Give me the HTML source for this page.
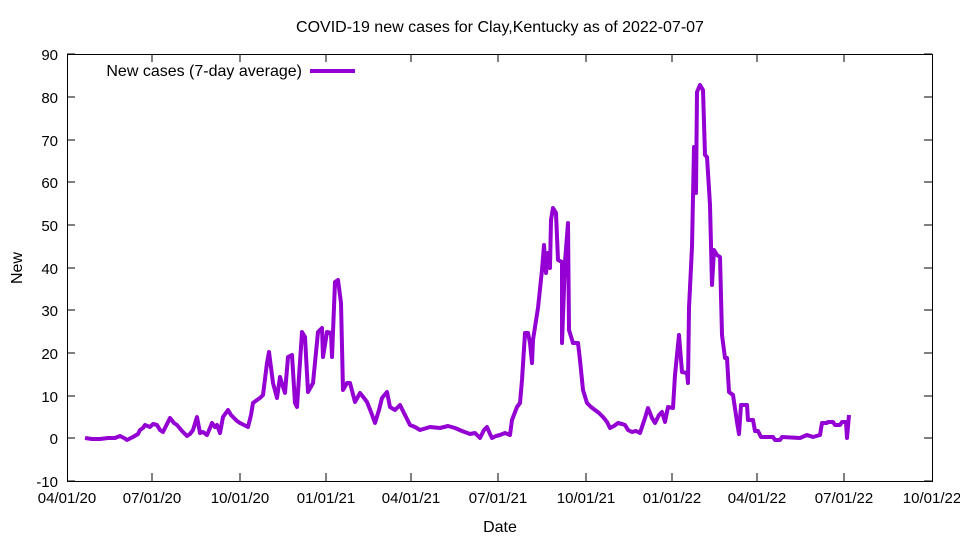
<!DOCTYPE html>
<html><head><meta charset="utf-8"><style>body{margin:0;background:#fff}</style></head><body>
<svg width="960" height="540" xmlns="http://www.w3.org/2000/svg" font-family="Liberation Sans, sans-serif" font-size="14">
<rect width="960" height="540" fill="#fff"/>
<text x="500" y="32" text-anchor="middle" font-size="16">COVID-19 new cases for Clay,Kentucky as of 2022-07-07</text>
<g stroke="#000" stroke-width="1" fill="none">
<rect x="67.5" y="54.5" width="865" height="427"/>
<path d="M67,481h8M932,481h-8M67,438h8M932,438h-8M67,396h8M932,396h-8M67,353h8M932,353h-8M67,310h8M932,310h-8M67,268h8M932,268h-8M67,225h8M932,225h-8M67,182h8M932,182h-8M67,140h8M932,140h-8M67,97h8M932,97h-8M67,54h8M932,54h-8"/>
<path d="M152,481v-8M152,54v8M240,481v-8M240,54v8M326,481v-8M326,54v8M411,481v-8M411,54v8M498,481v-8M498,54v8M586,481v-8M586,54v8M672,481v-8M672,54v8M757,481v-8M757,54v8M844,481v-8M844,54v8"/>
</g>
<g text-anchor="end" font-size="15">
<text x="58" y="487">-10</text><text x="58" y="444">0</text><text x="58" y="402">10</text><text x="58" y="359">20</text><text x="58" y="316">30</text><text x="58" y="274">40</text><text x="58" y="231">50</text><text x="58" y="188">60</text><text x="58" y="146">70</text><text x="58" y="103">80</text><text x="58" y="60">90</text>
</g>
<g text-anchor="middle" font-size="15">
<text x="67" y="503">04/01/20</text><text x="152" y="503">07/01/20</text><text x="240" y="503">10/01/20</text><text x="326" y="503">01/01/21</text><text x="411" y="503">04/01/21</text><text x="498" y="503">07/01/21</text><text x="586" y="503">10/01/21</text><text x="672" y="503">01/01/22</text><text x="757" y="503">04/01/22</text><text x="844" y="503">07/01/22</text><text x="932" y="503">10/01/22</text>
<text x="500" y="532" font-size="16">Date</text>
</g>
<text x="22" y="268" text-anchor="middle" font-size="16" transform="rotate(-90 22 268)">New</text>
<text x="302" y="76" text-anchor="end" font-size="16">New cases (7-day average)</text>
<path d="M310,71H355" stroke="#9400d3" stroke-width="4"/>
<polyline fill="none" stroke="#9400d3" stroke-width="4" stroke-linejoin="round" points="85,438 92,439 100,439 108,438 115,438 120,436 124,438 127,440 133,437 138,434 140,430 143,428 145,425 150,427 153,424 157,425 160,430 163,432 167,424 170,418 174,423 177,425 182,431 187,436 190,434 193,430 197,417 200,433 203,432 207,435 210,428 212,423 215,427 217,425 220,433 223,417 228,410 231,415 233,417 237,421 240,423 244,425 248,427 251,415 253,403 257,400 260,398 263,395 267,363 269,352 273,383 277,398 280,377 285,393 288,357 292,355 295,403 297,407 302,332 305,337 308,392 313,383 318,332 322,328 323,357 327,332 331,333 332,357 335,282 338,280 341,303 343,390 347,383 350,383 355,402 360,393 364,398 367,402 371,412 375,423 379,410 382,398 387,392 390,407 395,410 400,405 405,415 410,425 415,427 420,430 430,427 440,428 448,426 455,428 462,431 470,434 475,433 480,438 484,430 487,427 490,434 492,438 496,436 500,435 505,433 510,435 512,420 517,407 520,403 522,380 525,333 528,333 530,343 532,363 533,340 535,327 538,308 542,270 544,245 546,273 548,253 550,268 551,220 553,208 556,213 558,260 562,262 562,343 565,262 568,223 569,330 573,343 578,343 580,360 583,390 587,403 591,407 595,410 599,413 603,417 607,422 610,428 614,426 618,423 622,424 625,425 628,430 632,432 636,431 640,433 645,418 648,408 652,418 655,423 659,415 662,412 665,422 668,407 673,408 675,375 679,335 682,372 687,373 688,383 689,308 692,247 694,147 696,193 697,92 700,85 703,90 705,155 707,157 710,205 712,285 714,250 717,255 720,257 722,335 725,358 727,358 729,392 733,395 737,422 739,434 741,405 747,405 748,420 753,420 755,431 758,431 761,437 773,437 775,440 780,440 782,437 800,438 807,435 813,437 820,435 822,423 827,423 828,422 833,422 835,425 840,425 842,422 846,422 847,438 849,415"/>
</svg>
</body></html>
